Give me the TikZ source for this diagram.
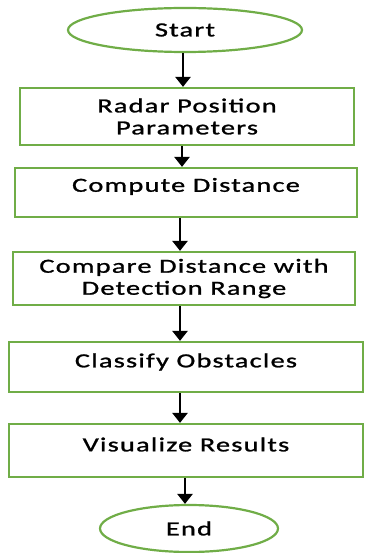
\documentclass[tikz,border=0pt]{standalone}
\usepackage{fontspec}
\setmainfont{Carlito}[FakeStretch=1.42,LetterSpace=6,FakeBold=1.2]
\usetikzlibrary{shapes.geometric,arrows.meta}
\definecolor{flowgreen}{RGB}{112,173,71}

\begin{document}
\begin{tikzpicture}[x=1pt,y=-1pt,
  txt/.style={font=\fontsize{20}{22}\selectfont, align=center, text=black},
  flow/.style={draw=flowgreen, line width=2.2pt, inner sep=0pt, txt},
  box/.style={flow, rectangle},
  term/.style={flow, ellipse},
  every label/.style={txt},
  arr/.style={line width=2.5pt, -{Triangle[width=15pt,length=10pt]}}]

  \useasboundingbox (0,0) rectangle (364,553);

  % terminals
  \node[term, minimum width=234pt, minimum height=44pt] (start) at (185,30) {Start};
  \node[term, minimum width=178pt, minimum height=47pt] (end) at (189,528.5) {End};

  % process steps
  \node[box, minimum width=334pt, minimum height=57pt] (b1) at (187,116.5)
    {Radar Position\\Parameters};
  \node[box, minimum width=342pt, minimum height=49pt,
        label={[yshift=6pt]center:Compute Distance}] (b2) at (186,192.5) {};
  \node[box, minimum width=342pt, minimum height=53pt] (b3) at (184,278.5)
    {Compare Distance with\\Detection Range};
  \node[box, minimum width=354pt, minimum height=50pt,
        label={[yshift=5pt]center:Classify Obstacles}] (b4) at (186,367) {};
  \node[box, minimum width=354pt, minimum height=53pt,
        label={[yshift=6pt]center:Visualize Results}] (b5) at (186,450.5) {};

  % connectors
  \draw[arr] ([xshift=-2pt]start.south) -- ([xshift=-2pt]start.south |- b1.north);
  \draw[arr] ([xshift=-5pt]b1.south) -- ([xshift=-5pt]b1.south |- b2.north);
  \draw[arr] ([xshift=-6pt]b2.south) -- ([xshift=-6pt]b2.south |- b3.north);
  \draw[arr] ([xshift=-4pt]b3.south) -- ([xshift=-4pt]b3.south |- b4.north);
  \draw[arr] ([xshift=-6pt]b4.south) -- ([xshift=-6pt]b4.south |- b5.north);
  \draw[arr] ([xshift=-1pt]b5.south) -- ([xshift=-1pt]b5.south |- end.north);
\end{tikzpicture}
\end{document}
